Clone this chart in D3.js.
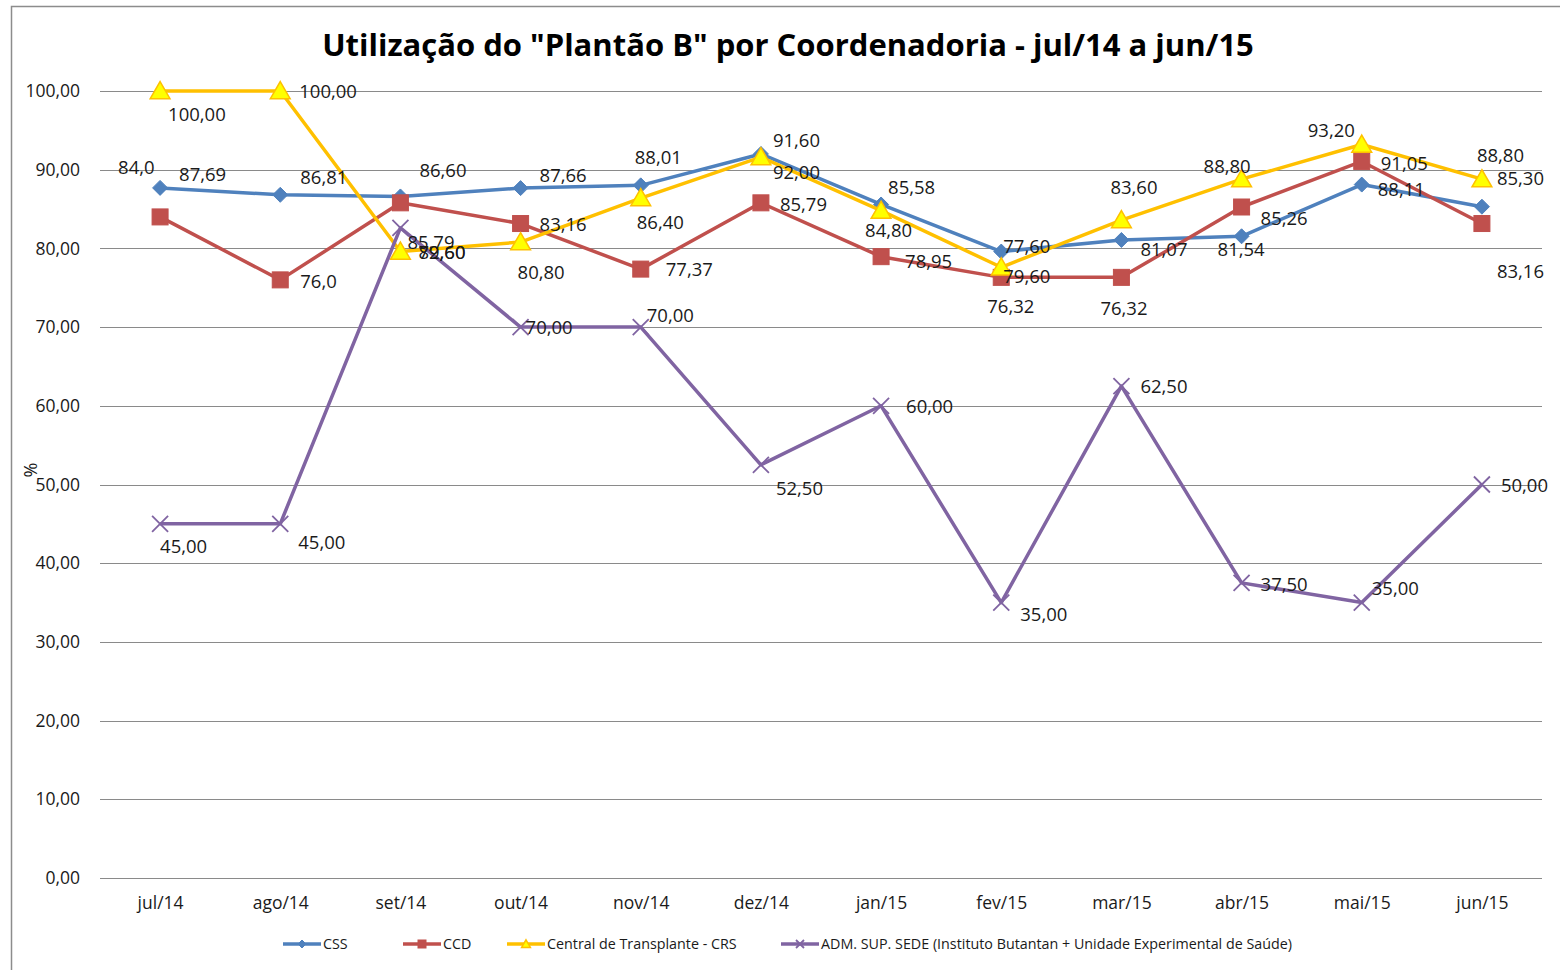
<!DOCTYPE html>
<html>
<head>
<meta charset="utf-8">
<script src="https://cdn.jsdelivr.net/npm/d3@7"></script>
<style>
  body { margin: 0; background: #fff; }
  text { font-family: "Open Sans", Lato, sans-serif; fill: #1a1a1a; }
</style>
</head>
<body>
<script>
var width = 1560,
    height = 970;

// data
var months = ["jul/14", "ago/14", "set/14", "out/14", "nov/14", "dez/14",
              "jan/15", "fev/15", "mar/15", "abr/15", "mai/15", "jun/15"];

var cssValues = [87.69, 86.81, 86.60, 87.66, 88.01, 92.00, 85.58, 79.60, 81.07, 81.54, 88.11, 85.30];
var cssLabels = ["87,69", "86,81", "86,60", "87,66", "88,01", "92,00", "85,58", "77,60", "81,07", "81,54", "88,11", "85,30"];

var ccdValues = [84.0, 76.0, 85.79, 83.16, 77.37, 85.79, 78.95, 76.32, 76.32, 85.26, 91.05, 83.16];
var ccdLabels = ["84,0", "76,0", "85,79", "83,16", "77,37", "85,79", "78,95", "76,32", "76,32", "85,26", "91,05", "83,16"];

var crsValues = [100, 100, 79.60, 80.80, 86.40, 91.60, 84.80, 77.60, 83.60, 88.80, 93.20, 88.80];
var crsLabels = ["100,00", "100,00", "79,60", "80,80", "86,40", "91,60", "84,80", "79,60", "83,60", "88,80", "93,20", "88,80"];

var admValues = [45, 45, 82.60, 70, 70, 52.50, 60, 35, 62.50, 37.50, 35, 50];
var admLabels = ["45,00", "45,00", "82,60", "70,00", "70,00", "52,50", "60,00", "35,00", "62,50", "37,50", "35,00", "50,00"];

var yTicks = [0, 10, 20, 30, 40, 50, 60, 70, 80, 90, 100];

// where each data label sits relative to its point (px: text start, text middle)
var cssNudge = [[19,-13],[20,-17],[19,-26],[19,-13],[-6,-28],[12,19],[7,-17],[2,-5],[19,10],[-24,13],[16,5],[15,-28]];
var ccdNudge = [[-42,-49],[20,2],[7,40],[19,1],[25,0],[19,2],[24,5],[-14,29],[-21,31],[19,12],[19,2],[15,48]];
var crsNudge = [[8,24],[19,1],[18,1],[-3,30],[-4,24],[12,-17],[-16,20],[2,9],[-11,-33],[-38,-13],[-54,-14],[-5,-24]];
var admNudge = [[0,23],[18,19],[18,25],[5,0],[6,-12],[15,24],[25,1],[19,12],[19,0],[19,2],[10,-14],[19,1]];

var series = [
  { name: "CSS", values: cssValues, labels: cssLabels, nudge: cssNudge, color: "#4F81BD", marker: "diamond" },
  { name: "CCD", values: ccdValues, labels: ccdLabels, nudge: ccdNudge, color: "#C0504D", marker: "square" },
  { name: "Central de Transplante - CRS", values: crsValues, labels: crsLabels, nudge: crsNudge, color: "#FFC000", marker: "triangle" },
  { name: "ADM. SUP. SEDE (Instituto Butantan + Unidade Experimental de Saúde)", values: admValues, labels: admLabels, nudge: admNudge, color: "#8064A2", marker: "cross" }
];

var plotLeft = 100, plotRight = 1542, plotTop = 91, plotBottom = 878;

var xScale = d3.scalePoint()
    .domain(months)
    .range([plotLeft, plotRight])
    .padding(0.5);

var yScale = d3.scaleLinear()
    .domain([0, 100])
    .range([plotBottom, plotTop]);

var fmt = function(v) { return d3.format(".2f")(v).replace(".", ","); };

var svg = d3.select("body")
    .append("svg")
    .attr("width", width)
    .attr("height", height);

// chart frame (only left/top visible in picture)
svg.append("path")
    .attr("d", "M11.5," + height + "V6.5H" + width)
    .attr("fill", "none")
    .attr("stroke", "#8c8c8c")
    .attr("stroke-width", 1.5);

// title
svg.append("text")
    .attr("x", 788)
    .attr("y", 56)
    .attr("text-anchor", "middle")
    .style("font-size", "31px")
    .style("font-weight", "bold")
    .style("fill", "#000")
    .text("Utilização do \"Plantão B\" por Coordenadoria - jul/14 a jun/15");

// gridlines
svg.append("g")
    .selectAll("line")
    .data(yTicks)
    .enter()
    .append("line")
    .attr("x1", plotLeft)
    .attr("x2", plotRight)
    .attr("y1", function(d) { return Math.round(yScale(d)) + 0.5; })
    .attr("y2", function(d) { return Math.round(yScale(d)) + 0.5; })
    .attr("stroke", "#8a8a8a")
    .attr("stroke-width", 1);

// y axis labels
var yAxis = d3.axisLeft(yScale)
    .tickValues(yTicks)
    .tickSize(0)
    .tickPadding(20)
    .tickFormat(fmt);

var gy = svg.append("g")
    .attr("transform", "translate(" + plotLeft + ",0)")
    .call(yAxis);
gy.select(".domain").remove();
gy.selectAll("text")
    .style("font-family", "\"Open Sans\", sans-serif")
    .style("font-size", "17.5px")
    .style("fill", "#1a1a1a");

// x axis labels
var xAxis = d3.axisBottom(xScale).tickSize(0).tickPadding(19);
var gx = svg.append("g")
    .attr("transform", "translate(0," + plotBottom + ")")
    .call(xAxis);
gx.select(".domain").remove();
gx.selectAll("text")
    .style("font-family", "\"Open Sans\", sans-serif")
    .style("font-size", "17.5px")
    .style("fill", "#1a1a1a");

// "%" axis title
svg.append("text")
    .attr("transform", "translate(37,470) rotate(-90)")
    .attr("text-anchor", "middle")
    .style("font-size", "18px")
    .text("%");

var line = d3.line()
    .x(function(d, i) { return xScale(months[i]); })
    .y(function(d) { return yScale(d); });

function drawMarker(g, kind, color, size) {
  var s = size;
  if (kind === "diamond") {
    g.append("path")
      .attr("d", "M0," + (-s) + "L" + s + ",0L0," + s + "L" + (-s) + ",0Z")
      .attr("fill", color).attr("stroke", color).attr("stroke-width", 1);
  } else if (kind === "square") {
    g.append("rect")
      .attr("x", -s).attr("y", -s).attr("width", 2 * s).attr("height", 2 * s)
      .attr("fill", color).attr("stroke", color).attr("stroke-width", 1);
  } else if (kind === "triangle") {
    g.append("path")
      .attr("d", "M0," + (-s * 1.05) + "L" + (s * 1.1) + "," + (s * 0.85) + "L" + (-s * 1.1) + "," + (s * 0.85) + "Z")
      .attr("fill", "#FFFF00").attr("stroke", color).attr("stroke-width", 1.5);
  } else {
    g.append("path")
      .attr("d", "M" + (-s) + "," + (-s) + "L" + s + "," + s + "M" + (-s) + "," + s + "L" + s + "," + (-s))
      .attr("fill", "none").attr("stroke", color).attr("stroke-width", 1.8);
  }
}

var markerSize = { diamond: 7.5, square: 8, triangle: 9, cross: 8 };

// lines and markers
series.forEach(function(s) {
  svg.append("path")
    .datum(s.values)
    .attr("d", line)
    .attr("fill", "none")
    .attr("stroke", s.color)
    .attr("stroke-width", 3.5)
    .attr("stroke-linejoin", "round");

  svg.append("g")
    .selectAll("g")
    .data(s.values)
    .enter()
    .append("g")
    .attr("transform", function(d, i) {
      return "translate(" + xScale(months[i]) + "," + yScale(d) + ")";
    })
    .each(function() { drawMarker(d3.select(this), s.marker, s.color, markerSize[s.marker]); });
});

// data labels
series.forEach(function(s) {
  svg.append("g")
    .selectAll("text")
    .data(s.values)
    .enter()
    .append("text")
    .attr("x", function(d, i) { return xScale(months[i]) + s.nudge[i][0]; })
    .attr("y", function(d, i) { return yScale(d) + s.nudge[i][1]; })
    .attr("dy", "0.35em")
    .style("font-size", "18.5px")
    .text(function(d, i) { return s.labels[i]; });
});

// legend
var legendX = [283, 403, 507, 781];
var legend = svg.append("g").attr("transform", "translate(0,944)");
series.forEach(function(s, i) {
  var g = legend.append("g").attr("transform", "translate(" + legendX[i] + ",0)");
  g.append("line")
    .attr("x1", 0).attr("x2", 38)
    .attr("stroke", s.color)
    .attr("stroke-width", 3.5);
  var m = g.append("g").attr("transform", "translate(19,0)");
  drawMarker(m, s.marker, s.color, 4);
  g.append("text")
    .attr("x", 40)
    .attr("dy", "0.35em")
    .style("font-size", "14.3px")
    .text(s.name);
});
</script>
</body>
</html>
